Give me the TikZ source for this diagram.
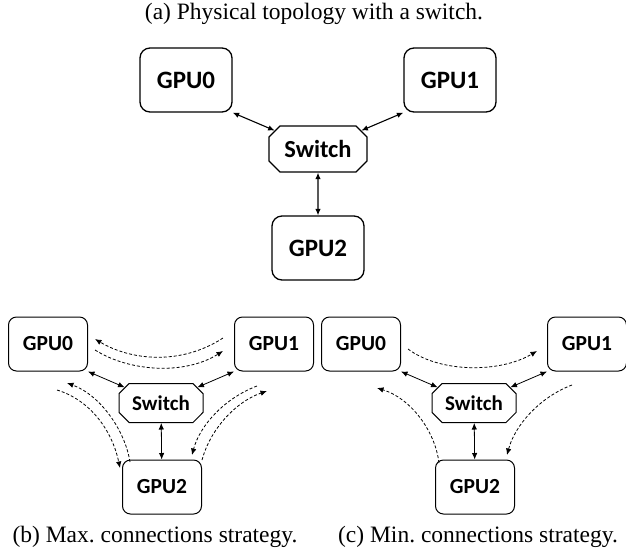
\documentclass[tikz,border=0pt]{standalone}
\usepackage{fontspec}
\setmainfont{Liberation Serif}
\newfontfamily\boxfont{Carlito}
\usepackage{tikz}
\usetikzlibrary{shapes.misc}
\usetikzlibrary{arrows.meta}
\frenchspacing

\tikzset{
    gpu/.style={draw, rounded corners=10pt, line width=1.3pt, minimum width=92pt, minimum height=64pt,
        font=\boxfont\bfseries\fontsize{25}{29}\selectfont},
    gpusmall/.style={gpu, rounded corners=8pt, line width=1pt, minimum width=79pt, minimum height=54pt,
        font=\boxfont\bfseries\fontsize{21.5}{25}\selectfont},
    switchbox/.style={draw, chamfered rectangle, chamfered rectangle xsep=8pt, line width=1.3pt,
        minimum width=98pt, minimum height=46pt, inner sep=0pt,
        font=\boxfont\bfseries\fontsize{24.5}{28}\selectfont},
    switchsmall/.style={switchbox, chamfered rectangle xsep=7pt, line width=1pt,
        minimum width=84pt, minimum height=39pt, font=\boxfont\bfseries\fontsize{21}{25}\selectfont},
    caption/.style={font=\fontsize{23.5}{28}\selectfont},
    link/.style={<->, line width=1.1pt},
    linksmall/.style={<->, line width=0.8pt},
    flow/.style={->, line width=0.8pt, dash pattern=on 3pt off 2pt},
}

\begin{document}
\begin{tikzpicture}[x=1pt, y=-1pt, >={Latex[length=6.5pt,width=5.5pt]}]
                \useasboundingbox (0,0) rectangle (626,558);

                % (a) physical topology
                \node[caption] at (314,14) (capa) {(a) Physical topology with a switch.};
                \node[gpu] at (186,80) (g0a) {GPU0};
                \node[gpu] at (450,80) (g1a) {GPU1};
                \node[switchbox] at (318,149) (swa) {Switch};
                \node[gpu] at (318,248) (g2a) {GPU2};

                \draw[link] (g0a.south east) -- (swa);
                \draw[link] (g1a.south west) -- (swa);
                \draw[link] (swa) -- (g2a);

                % (b) max. connections
                \node[gpusmall] at (48,344) (g0b) {GPU0};
                \node[gpusmall] at (274,344) (g1b) {GPU1};
                \node[switchsmall] at (161,403) (swb) {Switch};
                \node[gpusmall] at (162,487) (g2b) {GPU2};
                \node[caption] at (155,537) (capb) {(b) Max. connections strategy.};

                \draw[linksmall] (g0b.south east) -- (swb);
                \draw[linksmall] (g1b.south west) -- (swb);
                \draw[linksmall] (swb) -- (g2b);

                \coordinate (b10s) at (223,338);
                \coordinate (b10e) at (95,339);
                \coordinate (b01s) at (95,350);
                \coordinate (b01e) at (223,351);
                \coordinate (b20s) at (130,462);
                \coordinate (b20e) at (67,383);
                \coordinate (b02s) at (57,390);
                \coordinate (b02e) at (120,468);
                \coordinate (b12s) at (257,386);
                \coordinate (b12e) at (192,455);
                \coordinate (b21s) at (202,460);
                \coordinate (b21e) at (267,391);

                \draw[flow] (b10s) .. controls (180,366) and (130,360) .. (b10e);
                \draw[flow] (b01s) .. controls (130,372) and (185,375) .. (b01e);
                \draw[flow] (b20s) .. controls (125,430) and (100,395) .. (b20e);
                \draw[flow] (b02s) .. controls (90,400) and (112,430) .. (b02e);
                \draw[flow] (b12s) .. controls (225,398) and (200,425) .. (b12e);
                \draw[flow] (b21s) .. controls (210,430) and (235,402) .. (b21e);

                % (c) min. connections
                \node[gpusmall] at (361,344) (g0c) {GPU0};
                \node[gpusmall] at (587,344) (g1c) {GPU1};
                \node[switchsmall] at (474,403) (swc) {Switch};
                \node[gpusmall] at (475,487) (g2c) {GPU2};
                \node[caption] at (478,537) (capc) {(c) Min. connections strategy.};

                \draw[linksmall] (g0c.south east) -- (swc);
                \draw[linksmall] (g1c.south west) -- (swc);
                \draw[linksmall] (swc) -- (g2c);

                \coordinate (c01s) at (408,349);
                \coordinate (c01e) at (537,351);
                \coordinate (c20s) at (439,463);
                \coordinate (c20e) at (377,388);
                \coordinate (c12s) at (572,385);
                \coordinate (c12e) at (507,455);

                \draw[flow] (c01s) .. controls (440,373) and (500,373) .. (c01e);
                \draw[flow] (c20s) .. controls (435,430) and (410,398) .. (c20e);
                \draw[flow] (c12s) .. controls (540,397) and (515,425) .. (c12e);

            \end{tikzpicture}
\end{document}
